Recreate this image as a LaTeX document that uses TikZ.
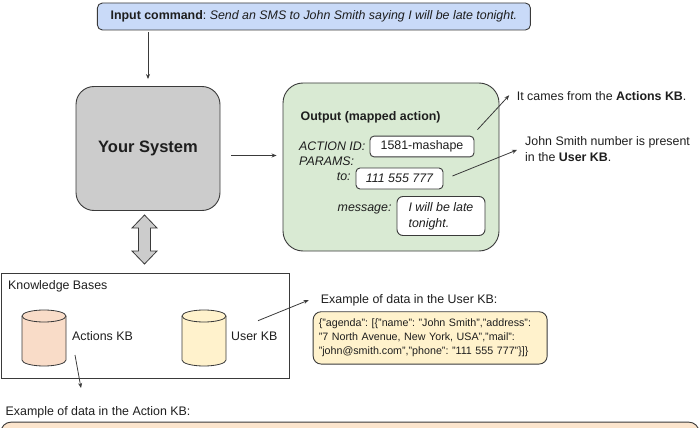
\documentclass[tikz,border=0pt]{standalone}
\usepackage{fontspec}
\setmainfont{Liberation Sans}
\usetikzlibrary{arrows.meta}
\frenchspacing
\definecolor{inblue}{HTML}{C9DAF8}
\definecolor{sysgray}{HTML}{CCCCCC}
\definecolor{outgreen}{HTML}{D9EAD3}
\definecolor{akbpeach}{HTML}{F9DCC8}
\definecolor{botpeach}{HTML}{FCE5CD}
\definecolor{ukbyellow}{HTML}{FFF2CC}
\definecolor{edge}{HTML}{3A3A3A}
\definecolor{ink}{HTML}{1E1E1E}
\begin{document}
\begin{tikzpicture}[x=1pt,y=1pt,
  every node/.style={font=\fontsize{12.4}{16}\selectfont, inner sep=0pt, text=ink},
  arr/.style={draw=edge, line width=0.8pt, -{Stealth[length=5pt,width=4pt]}},
  box/.style={draw=edge, line width=0.9pt, rounded corners=#1},
  box/.default=5pt,
  lbl/.style={anchor=base west},
  itl/.style={font=\fontsize{12.4}{16}\selectfont\itshape},
  cyl/.style={fill=#1, draw=edge, line width=0.8pt}
]
\useasboundingbox (0,0) rectangle (699,-428);

% input command
\node[box=5pt, fill=inblue, minimum width=433pt, minimum height=27pt] (inp) at (313.9,-16.5)
  {\textbf{Input command}: \textit{Send an SMS to John Smith saying I will be late tonight.}};

% your system
\node[box=18pt, fill=sysgray, minimum width=144pt, minimum height=124pt,
  font=\fontsize{16.5}{20}\selectfont\bfseries] (sys) at (148,-148.5) {Your System};
\draw[arr] ([yshift=-2pt]inp.south -| sys.north) -- ([yshift=7pt]sys.north);

% output box
\node[box=20pt, fill=outgreen, minimum width=216pt, minimum height=168pt] (out) at (391,-167) {};
\draw[arr] ([shift={(11pt,-7pt)}]sys.east) -- ([xshift=-6pt,yshift=-7pt]sys.east -| out.west);

\node[lbl, font=\fontsize{12.4}{16}\selectfont\bfseries] (outt) at (300.5,-120) {Output (mapped action)};
\node[lbl, itl] (aidl) at (299,-150.7) {ACTION ID:};
\node[box=4pt, fill=white, minimum width=104pt, minimum height=20.7pt] (idb) at (422,-146.5) {1581-mashape};
\node[lbl, itl] (parl) at (299,-165) {PARAMS:};
\node[lbl, itl] (tol) at (336.7,-180) {to:};
\node[box=4pt, fill=white, minimum width=87pt, minimum height=21pt, itl] (tob) at (399.5,-178.5) {111 555 777};
\node[lbl, itl] (msgl) at (337.5,-211) {message:};
\node[box=6pt, fill=white, minimum width=88pt, minimum height=39pt, align=left, itl] (msgb) at (441,-216)
  {I will be late\\tonight.};

% side notes
\node[lbl] (n1) at (516.7,-100.7) {It cames from the \textbf{Actions KB}.};
\draw[arr] ([shift={(3pt,6pt)}]idb.north east) -- ([shift={(-7.5pt,1pt)}]n1.west);
\node[anchor=north west, align=left] (n2) at (525,-136.7) {John Smith number is present\\in the \textbf{User KB}.};
\draw[arr] ([shift={(9pt,2.5pt)}]tob.east) -- ([shift={(-8pt,-0.5pt)}]n2.west);

% double arrow between system and knowledge bases
\coordinate (dac) at (144.5,-239.5);
\begin{scope}[shift={(dac)}]
\draw[fill=sysgray, draw=edge, line width=0.8pt, line join=miter]
  (0,24.5) -- (12.5,11.5) -- (6,11.5) -- (6,-11.5) -- (12.5,-11.5) -- (0,-24.5)
  -- (-12.5,-11.5) -- (-6,-11.5) -- (-6,11.5) -- (-12.5,11.5) -- cycle;
\end{scope}

% knowledge bases
\node[draw=edge, line width=0.8pt, minimum width=288pt, minimum height=105pt] (kb) at (145,-325.5) {};
\node[lbl] (kbt) at (8,-289) {Knowledge Bases};

\node[minimum width=44pt, minimum height=56pt] (akb) at (44,-338) {};
\draw[cyl=akbpeach] (22,-316) -- (22,-360) arc[start angle=180, end angle=360, x radius=22, y radius=6]
  -- (66,-316) arc[start angle=0, end angle=180, x radius=22, y radius=6] -- cycle;
\draw[draw=edge, line width=0.8pt] (66,-316) arc[start angle=0, end angle=-180, x radius=22, y radius=6];
\node[lbl] (akbl) at (72,-340) {Actions KB};

\node[minimum width=44pt, minimum height=56pt] (ukb) at (204,-338) {};
\draw[cyl=ukbyellow] (182,-316) -- (182,-360) arc[start angle=180, end angle=360, x radius=22, y radius=6]
  -- (226,-316) arc[start angle=0, end angle=180, x radius=22, y radius=6] -- cycle;
\draw[draw=edge, line width=0.8pt] (226,-316) arc[start angle=0, end angle=-180, x radius=22, y radius=6];
\node[lbl] (ukbl) at (231,-340) {User KB};

% user KB example
\node[lbl] (uex) at (320.7,-303.3) {Example of data in the User KB:};
\node[box=8pt, fill=ukbyellow, anchor=west, inner xsep=5.6pt, text width=222.8pt, minimum height=52.3pt,
  align=left, font=\fontsize{10.7}{14.2}\selectfont] (ud) at (312.7,-337.9)
  {\{"agenda": [\{"name": "John Smith","address":\\"7 North Avenue, New York, USA","mail":\\"john@smith.com","phone": "111 555 777"\}]\}};
\coordinate (u1) at (258,-320.7);
\draw[arr] (u1) -- ([shift={(-12pt,0pt)}]uex.west);

% action KB example
\node[lbl] (aex) at (5.5,-415.5) {Example of data in the Action KB:};
\coordinate (a1) at (75,-355);
\coordinate (a2) at (81,-388);
\draw[arr] (a1) -- (a2);
\begin{scope}
\clip (0,0) rectangle (699,-428);
\node[box=10pt, fill=botpeach, minimum width=698pt, minimum height=40pt, anchor=north west] (ad) at (0.5,-421.7) {};
\end{scope}
\end{tikzpicture}
\end{document}
